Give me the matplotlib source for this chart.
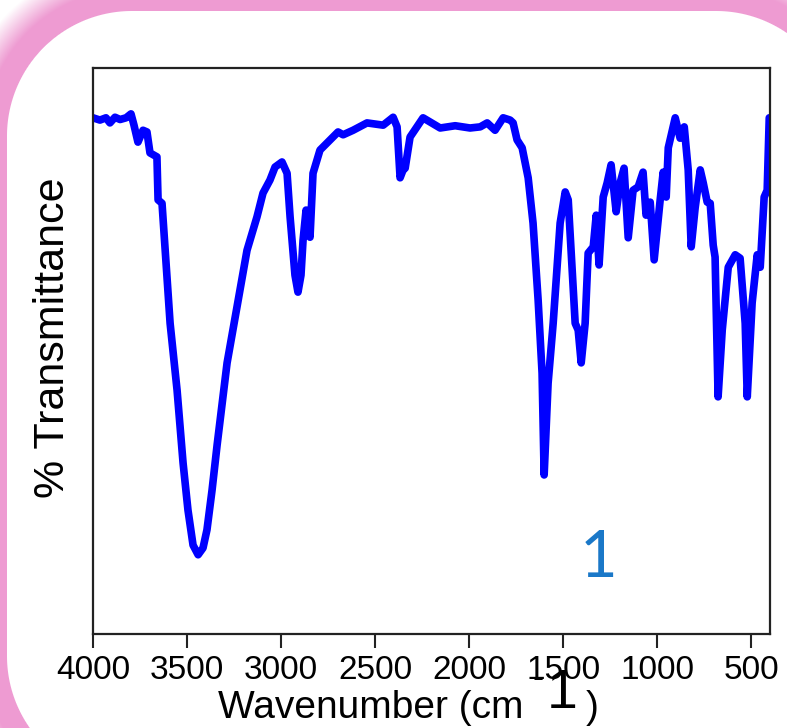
import numpy as np
import matplotlib
matplotlib.use("Agg")
import matplotlib.pyplot as plt

W_PX, H_PX = 787, 728

# IR spectrum (wavenumber in cm-1, transmittance in arbitrary %)
wavenumber = [
    4000, 3963, 3931, 3910, 3883, 3856, 3824, 3798, 3782, 3761,
    3734, 3713, 3697, 3660, 3654, 3633, 3590, 3553, 3521, 3495,
    3468, 3441, 3415, 3394, 3367, 3340, 3287, 3234, 3181, 3128,
    3096, 3059, 3032, 2995, 2968, 2952, 2926, 2910, 2894, 2883,
    2867, 2856, 2846, 2830, 2793, 2739, 2697, 2670, 2617, 2543,
    2457, 2404, 2383, 2367, 2351, 2340, 2314, 2245, 2154, 2074,
    1995, 1941, 1904, 1862, 1819, 1782, 1766, 1745, 1718, 1686,
    1660, 1633, 1612, 1601, 1580, 1553, 1516, 1489, 1473, 1436,
    1420, 1404, 1383, 1367, 1340, 1324, 1309, 1287, 1266, 1245,
    1218, 1197, 1176, 1154, 1128, 1101, 1075, 1059, 1037, 1016,
    984, 968, 952, 941, 904, 878, 856, 835, 819, 798,
    771, 755, 734, 718, 702, 692, 676, 654, 622, 585,
    559, 532, 521, 495, 468, 452, 431, 415, 404,
]
transmittance = [
    91.2, 90.8, 91.2, 90.3, 91.3, 90.9, 91.2, 91.9, 89.9, 86.9,
    89.0, 88.7, 85.0, 84.3, 76.7, 76.1, 54.9, 43.1, 30.2, 21.9,
    15.7, 14.0, 15.2, 18.4, 25.4, 33.4, 47.9, 57.8, 67.8, 73.7,
    77.9, 80.2, 82.5, 83.4, 81.4, 73.7, 63.4, 60.4, 63.4, 69.6,
    74.9, 71.4, 70.1, 81.4, 85.5, 87.3, 88.7, 88.2, 89.0, 90.3,
    89.9, 91.3, 89.6, 80.6, 82.0, 82.3, 87.8, 91.2, 89.4, 89.8,
    89.4, 89.6, 90.3, 89.0, 91.2, 90.8, 90.3, 87.3, 85.9, 80.6,
    72.6, 59.0, 46.1, 28.1, 44.3, 54.9, 72.6, 78.1, 76.7, 54.9,
    53.7, 47.9, 54.9, 67.3, 68.4, 74.0, 65.2, 77.2, 79.7, 82.9,
    74.6, 79.7, 82.3, 70.0, 78.4, 79.0, 81.6, 74.0, 76.3, 66.1,
    76.7, 81.6, 77.2, 85.9, 91.2, 87.6, 89.6, 82.0, 68.4, 75.3,
    82.0, 79.7, 76.3, 76.1, 68.7, 66.6, 41.9, 53.7, 64.8, 67.0,
    66.4, 54.9, 41.9, 58.5, 67.0, 64.8, 77.2, 78.4, 91.2,
]
x_ticks = [4000, 3500, 3000, 2500, 2000, 1500, 1000, 500]
sample_label = "1"

PINK = np.array([238, 155, 210]) / 255.0
FONT = ["Liberation Sans", "DejaVu Sans"]


def fx(px):
    return px / W_PX


def fy(py):
    return 1.0 - py / H_PX


def frame_image():
    # pink slide border around a rounded white panel
    yy, xx = np.mgrid[0:H_PX, 0:W_PX] + 0.5
    x0, x1, y0, y1, r = 7.0, 841.0, 11.0, 781.0, 125.0
    cx = np.clip(xx, x0 + r, x1 - r)
    cy = np.clip(yy, y0 + r, y1 - r)
    d = np.hypot(xx - cx, yy - cy) - r
    inner = np.clip(d + 0.5, 0, 1)
    fade = np.clip(1 - (d - 22) / 28.0, 0, 1)
    img = np.ones((H_PX, W_PX, 4))
    img[..., :3] = PINK
    img[..., 3] = inner * fade
    return img


fig = plt.figure(figsize=(W_PX / 100, H_PX / 100), dpi=100, facecolor="white")
fig.figimage(frame_image(), 0, 0, zorder=-1)

ax = fig.add_axes([fx(93), fy(634), fx(770) - fx(93), fy(68) - fy(634)])
ax.set_facecolor("white")
ax.plot(wavenumber, transmittance, color="#0000FF", lw=5.5,
        solid_joinstyle="round", solid_capstyle="round")
ax.set_xlim(4000, 400)
ax.set_ylim(0, 100)
ax.set_xticks(x_ticks)
ax.set_xticklabels([str(t) for t in x_ticks], family=FONT, fontsize=24)
ax.set_yticks([])
ax.tick_params(axis="x", direction="out", length=10, width=1.5, pad=5, color="#222222")
for s in ax.spines.values():
    s.set_linewidth(1.6)
    s.set_color("#222222")

ax.text(1309, 10.1, sample_label, ha="center", va="baseline",
        fontsize=47, color="#1A78C8", family=["Lato", "DejaVu Sans"])

# axis titles placed like in the slide
fig.text(fx(53), fy(338), "% Transmittance", rotation=90, ha="center", va="center",
         fontsize=31, family=FONT)
fig.text(fx(218), fy(718), "Wavenumber (cm", ha="left", va="baseline",
         fontsize=28, family=FONT)
fig.text(fx(538), fy(688), "-", ha="center", va="baseline", fontsize=24, family=FONT)
fig.text(fx(562), fy(708), "1", ha="center", va="baseline", fontsize=40, family=FONT)
fig.text(fx(586), fy(718), ")", ha="left", va="baseline", fontsize=28, family=FONT)

fig.savefig("out.png", dpi=100, facecolor="white")
